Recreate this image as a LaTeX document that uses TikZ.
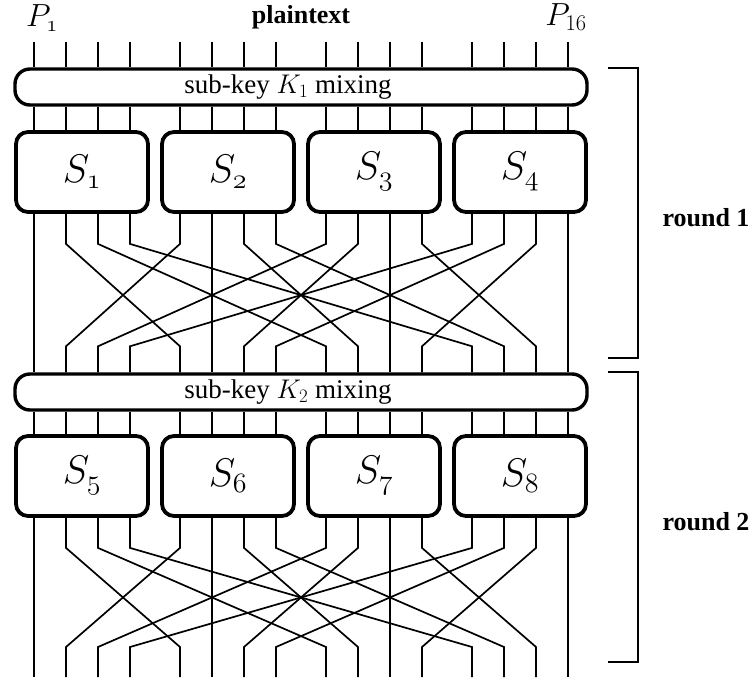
\RequirePackage{fix-cm}
\documentclass[tikz,border=0pt]{standalone}
\usepackage{fontspec}
\setmainfont{Liberation Serif}
\usetikzlibrary{calc}

\tikzset{
  wire/.style={line width=1.7pt},
  mixbox/.style={draw, line width=3.4pt, rounded corners=15pt, minimum width=572pt, minimum height=36pt, inner sep=0pt},
  keytext/.style={xshift=-13pt, font=\fontsize{27}{27}\selectfont},
  sbox/.style={draw, line width=3.8pt, rounded corners=12pt, minimum width=132pt, minimum height=80pt, inner sep=0pt, font=\fontsize{40}{40}\selectfont},
  brace/.style={line width=1.8pt},
  lbl/.style={font=\fontsize{26}{26}\selectfont\bfseries},
  plbl/.style={font=\fontsize{32}{32}\selectfont, inner sep=0pt},
}

\begin{document}
\begin{tikzpicture}[x=1pt, y=-1pt]
  \useasboundingbox (0,0) rectangle (754,677);
  \coordinate (top) at (0,42);
  \coordinate (bot) at (0,677);
  % the 16 bit lines
  \foreach \k in {1,...,16} {
    \pgfmathsetmacro\wx{82+146*int((\k-1)/4)+32*(mod(\k-1,4)-1.5)}
    \coordinate (w\k) at (\wx,0);
  }

  % key mixing and s-box layers
  \foreach \r/\ym/\ys in {1/87/172, 2/392/476} {
    \node[mixbox, label={[keytext]center:sub-key $K_{\r}$ mixing}] (mix\r) at (301,\ym) {};
    \foreach \g in {1,...,4} {
      \pgfmathtruncatemacro\n{4*(\r-1)+\g}
      \node[sbox] (s\n) at (146*\g-64,\ys) {$S_{\mathnormal{\n}}$};
    }
  }

  \node[plbl] (p1) at (42,18) {$P_{\mathnormal{1}}$};
  \node[plbl] (p16) at (566,17) {$P_{16}$};
  \node[lbl] (ptext) at (301,17) {plaintext};

  \foreach \k in {1,...,16}
    \draw[wire] (w\k |- top) -- (w\k |- mix1.north);
  \foreach \r in {1,2}
    \foreach \k in {1,...,16} {
      \pgfmathtruncatemacro\n{4*(\r-1)+int((\k-1)/4)+1}
      \draw[wire] (w\k |- mix\r.south) -- (w\k |- s\n.north);
    }

  % bit permutation
  \foreach \r/\tgt/\up in {1/mix2.north/26, 2/bot/30}
    \foreach \g in {0,...,3}
      \foreach \j in {0,...,3} {
        \pgfmathtruncatemacro\a{4*\g+\j+1}
        \pgfmathtruncatemacro\b{4*\j+\g+1}
        \pgfmathtruncatemacro\n{4*(\r-1)+\g+1}
        \draw[wire] (w\a |- s\n.south) -- ++(0,30) -- ($(w\b |- \tgt)+(0,-\up)$) -- (w\b |- \tgt);
      }

  % rounds
  \draw[brace] (608,68) -- (638,68) -- (638,358) -- (608,358);
  \draw[brace] (608,372) -- (638,372) -- (638,662) -- (608,662);
  \node[lbl] (rnd1) at (706,218) {round 1};
  \node[lbl] (rnd2) at (706,522) {round 2};
\end{tikzpicture}
\end{document}
